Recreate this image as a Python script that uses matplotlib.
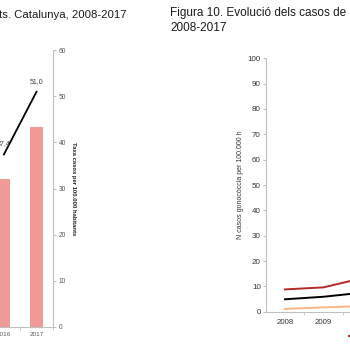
import matplotlib
matplotlib.use("Agg")
import matplotlib.pyplot as plt

plt.rcParams['font.family'] = ['Liberation Sans', 'DejaVu Sans']

# left chart (only the last two years are visible)
left_years = ['2016', '2017']
left_bars = [32.0, 43.4]
left_rate = [37.4, 51.0]
left_rate_labels = ['37,4', '51,0']

# right chart (first years visible)
right_years = ['2008', '2009', '2010', '2011', '2012', '2013', '2014', '2015', '2016', '2017']
red_vals = [8.8, 9.6, 13.2]
black_vals = [4.9, 5.9, 7.5]
orange_vals = [1.1, 1.7, 2.2]

W = H = 350.0
fig = plt.figure(figsize=(3.5, 3.5), dpi=100)

def box(x0, y_top, x1, y_bot):
    return [x0 / W, 1 - y_bot / H, (x1 - x0) / W, (y_bot - y_top) / H]

grey = '#bfbfbf'
txt = '#595959'

# ---- left chart
ax1 = fig.add_axes(box(0, 50.3, 53, 326.7))
xs = range(len(left_years))
ax1.bar(xs, left_bars, width=0.39, color='#f09a98')
ax1.plot(xs, left_rate, color='black', lw=1.3)
for x, v, s in zip(xs, left_rate, left_rate_labels):
    ax1.annotate(s, (x, v), xytext=(0, 5), textcoords='offset points',
                 ha='center', va='bottom', fontsize=5.0, color='#404040')
ax1.set_xlim(-0.12, 1.506)
ax1.set_ylim(0, 60)
ax1.yaxis.tick_right()
ax1.yaxis.set_label_position('right')
ax1.set_yticks(range(0, 61, 10))
ax1.set_xticks(list(xs))
ax1.set_xticklabels(left_years)
ax1.set_xticks([0.5, 1.5], minor=True)
ax1.tick_params(axis='x', which='major', length=0, labelsize=4.6, labelcolor=txt, pad=4)
ax1.tick_params(axis='x', which='minor', length=2, color=grey)
ax1.tick_params(axis='y', length=2, color=grey, labelsize=4.8, labelcolor=txt, pad=2)
for s in ['top', 'left']:
    ax1.spines[s].set_visible(False)
for s in ['right', 'bottom']:
    ax1.spines[s].set_color(grey)
    ax1.spines[s].set_linewidth(0.8)
ax1.set_ylabel('Taxa casos per 100.000 habitants', fontsize=4.2, fontweight='bold',
               rotation=270, labelpad=7, color='#202020')

# ---- right chart
ax2 = fig.add_axes(box(265.7, 58.3, 265.7 + 38.5 * len(right_years), 311.7))
h_red, = ax2.plot(range(len(red_vals)), red_vals, color='#b22a2a', lw=1.4)
h_blk, = ax2.plot(range(len(black_vals)), black_vals, color='black', lw=1.4)
h_org, = ax2.plot(range(len(orange_vals)), orange_vals, color='#fbb482', lw=1.4)
ax2.set_xlim(-0.5, len(right_years) - 0.5)
ax2.set_ylim(0, 100)
ax2.set_yticks(range(0, 101, 10))
ax2.set_xticks(range(len(right_years)))
ax2.set_xticklabels(right_years)
ax2.set_xticks([i + 0.5 for i in range(len(right_years))], minor=True)
ax2.tick_params(axis='x', which='major', length=0, labelsize=5.6, labelcolor='#333333', pad=5)
ax2.tick_params(axis='x', which='minor', length=2.5, color=grey)
ax2.tick_params(axis='y', length=2, color=grey, labelsize=5.8, labelcolor='#333333', pad=1.5)
for s in ['top', 'right']:
    ax2.spines[s].set_visible(False)
for s in ['left', 'bottom']:
    ax2.spines[s].set_color(grey)
    ax2.spines[s].set_linewidth(0.8)
ax2.set_ylabel('N casos gonocòccia per 100.000 h', fontsize=5, color='#333333', labelpad=2.5)
ax2.legend([h_red, h_blk, h_org], ['Homes', 'Total', 'Dones'], ncol=3, frameon=False,
           loc='upper left', bbox_to_anchor=(0.21, -0.075), fontsize=5,
           handlelength=1.5, borderaxespad=0)

# ---- titles
fig.text(127 / W, 1 - 14.5 / H, 'ts. Catalunya, 2008-2017', ha='right', va='center',
         fontsize=8.2, color='#1a1a1a')
fig.text(170 / W, 1 - 20.5 / H, 'Figura 10. Evolució dels casos de\n2008-2017', ha='left',
         va='center', fontsize=8.5, color='#1a1a1a', linespacing=1.3)

fig.savefig('out.png', dpi=100)
